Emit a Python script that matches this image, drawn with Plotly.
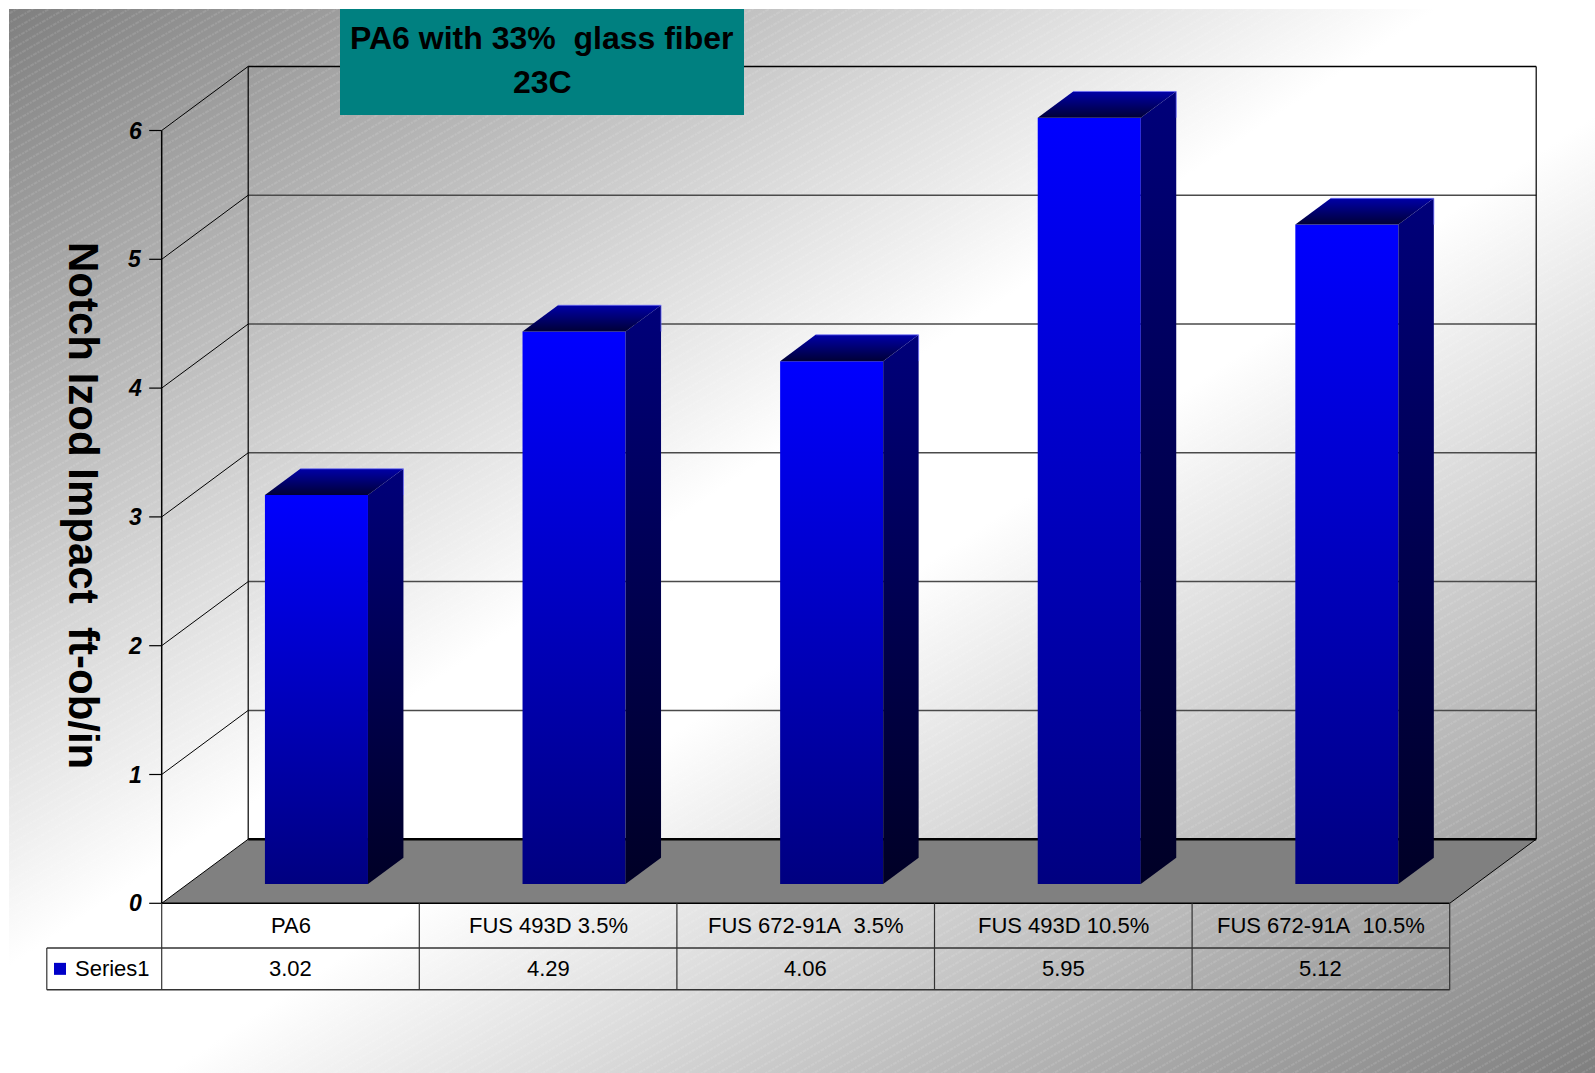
import base64
import plotly.graph_objects as go

# ---------------- data ----------------
categories = ["PA6", "FUS 493D 3.5%", "FUS 672-91A  3.5%", "FUS 493D 10.5%", "FUS 672-91A  10.5%"]
values = [3.02, 4.29, 4.06, 5.95, 5.12]
value_labels = ["3.02", "4.29", "4.06", "5.95", "5.12"]
y_ticks = [0, 1, 2, 3, 4, 5, 6]
series_name = "Series1"
title_lines = ["PA6 with 33%  glass fiber", "23C"]
y_title = "Notch Izod Impact  ft-ob/in"

# ---------------- geometry (pixel frame -> data frame) ----------------
W, H = 1595, 1073
X0, Y0 = 161.7, 903.3      # front-left floor corner in px
SLOT, UNIT = 257.6, 128.8  # px per category, px per value unit
DDX, DDY = 86.5 / SLOT, 64.1 / UNIT   # depth vector in data units
F1, F2 = 0.30, 0.71        # bar depth fractions
BW = 0.40                  # bar width (category units)
N = len(categories)
YMAX = max(y_ticks)


def dx(px):
    return (px - X0) / SLOT


def dy(py):
    return (Y0 - py) / UNIT


def nb(s):
    return s.replace("  ", "&nbsp; ")


FONT = "Liberation Sans, Arial, sans-serif"

fig = go.Figure()


def line(xs, ys, color="#000000", width=1.0):
    fig.add_trace(go.Scatter(x=xs, y=ys, mode="lines", line=dict(color=color, width=width),
                             hoverinfo="skip", showlegend=False))


def poly(xs, ys, scale=None, color=None):
    kw = dict(x=xs + [xs[0]], y=ys + [ys[0]], mode="lines", fill="toself",
              line=dict(width=0), hoverinfo="skip", showlegend=False)
    if scale is not None:
        kw["fillgradient"] = dict(type="vertical", colorscale=scale)
        kw["fillcolor"] = scale[-1][1]
    else:
        kw["fillcolor"] = color
    fig.add_trace(go.Scatter(**kw))


# floor
poly([0, N, N + DDX, DDX], [0, 0, DDY, DDY], color="#808080")

# back wall gridlines and side wall lines
for k in y_ticks:
    if k == 0:
        line([DDX, N + DDX], [DDY, DDY], "#000000", 2.5)
    elif k == YMAX:
        line([DDX, N + DDX], [k + DDY, k + DDY], "#000000", 1.5)
    else:
        line([DDX, N + DDX], [k + DDY, k + DDY], "#4a4a4a", 1.5)
    line([0, DDX], [k, k + DDY], "#000000", 1.0)
    line([-12.5 / SLOT, 0], [k, k], "#000000", 1.2)

line([DDX, DDX], [DDY, YMAX + DDY], "#000000", 1.2)
line([N + DDX, N + DDX], [DDY, YMAX + DDY], "#000000", 1.2)
line([0, 0], [0, YMAX], "#000000", 1.5)
line([N, N + DDX], [0, DDY], "#000000", 1.0)

# bars
front_scale = [[0, "#000080"], [1, "#0000ff"]]
side_scale = [[0, "#000026"], [1, "#00007a"]]
top_scale = [[0, "#000036"], [1, "#0000a8"]]
for i, v in enumerate(values):
    xl = i + 0.5 - BW / 2 + F1 * DDX
    xr = xl + BW
    yb = F1 * DDY
    yt = yb + v
    sx = (F2 - F1) * DDX
    sy = (F2 - F1) * DDY
    poly([xl, xr, xr, xl], [yb, yb, yt, yt], front_scale)
    poly([xr, xr + sx, xr + sx, xr], [yb, yb + sy, yt + sy, yt], side_scale)
    poly([xl, xr, xr + sx, xl + sx], [yt, yt, yt + sy, yt + sy], top_scale)
    # faint light edges along the top-back of each bar
    line([xl + sx, xr + sx, xr + sx], [yt + sy, yt + sy, yt], "rgba(110,110,255,0.7)", 1.0)

# data table
r1, r2 = dy(948.0), dy(989.7)
xleg = dx(46.8)
line([0, N], [0, 0], "#000000", 1.5)
line([xleg, N], [r1, r1], "#333333", 1.5)
line([xleg, N], [r2, r2], "#333333", 1.5)
for c in range(N + 1):
    line([c, c], [0, r2], "#333333", 1.2)
line([xleg, xleg], [r1, r2], "#333333", 1.2)

# legend key
fig.add_trace(go.Scatter(x=[dx(60)], y=[(r1 + r2) / 2], mode="markers",
                         marker=dict(symbol="square", size=12, color="#0000c8", line=dict(width=0)),
                         hoverinfo="skip", showlegend=False))

annotations = []
for i, (c, vl) in enumerate(zip(categories, value_labels)):
    annotations.append(dict(x=i + 0.5, y=r1 / 2, text=nb(c), showarrow=False,
                            font=dict(family=FONT, size=22, color="#000000")))
    annotations.append(dict(x=i + 0.5, y=(r1 + r2) / 2, text=vl, showarrow=False,
                            font=dict(family=FONT, size=22, color="#000000")))
annotations.append(dict(x=dx(73), y=(r1 + r2) / 2, text=series_name, showarrow=False, xanchor="left",
                        font=dict(family=FONT, size=22, color="#000000")))

# y tick labels
for k in y_ticks:
    annotations.append(dict(x=dx(144), y=k, text=str(k), showarrow=False, xanchor="right",
                            font=dict(family=FONT, size=23, color="#000000", weight="bold", style="italic")))

# y title
annotations.append(dict(x=dx(84), y=dy(505), text=nb(y_title), showarrow=False, textangle=90,
                        font=dict(family=FONT, size=42, color="#000000", weight="bold")))

# title
annotations.append(dict(x=dx(542), y=dy(38), text=nb(title_lines[0]), showarrow=False,
                        font=dict(family=FONT, size=32, color="#000000", weight="bold")))
annotations.append(dict(x=dx(542), y=dy(82), text=nb(title_lines[1]), showarrow=False,
                        font=dict(family=FONT, size=32, color="#000000", weight="bold")))

shapes = [dict(type="rect", xref="x", yref="y", x0=dx(340), x1=dx(744), y0=dy(9), y1=dy(115),
               fillcolor="#008080", line=dict(width=0), layer="above")]

# background: diagonal grey-white-grey gradient with fine hatching
bw_, bh_ = W - 9, H - 9
svg = (
    f"<svg xmlns='http://www.w3.org/2000/svg' width='{bw_}' height='{bh_}' viewBox='0 0 {bw_} {bh_}' preserveAspectRatio='none'>"
    "<defs>"
    "<linearGradient id='g' x1='0' y1='0' x2='1' y2='1'>"
    "<stop offset='0' stop-color='#7f7f7f'/><stop offset='0.45' stop-color='#ffffff'/>"
    "<stop offset='0.55' stop-color='#ffffff'/>"
    "<stop offset='1' stop-color='#7f7f7f'/></linearGradient>"
    "<pattern id='p' width='8' height='8' patternUnits='userSpaceOnUse' patternTransform='rotate(-30)'>"
    "<line x1='0' y1='4' x2='8' y2='4' stroke='#ffffff' stroke-opacity='0.22' stroke-width='1' stroke-dasharray='2 1'/>"
    "</pattern></defs>"
    "<rect width='100%' height='100%' fill='url(#g)'/>"
    "<rect width='100%' height='100%' fill='url(#p)'/>"
    "</svg>"
)
src = "data:image/svg+xml;base64," + base64.b64encode(svg.encode()).decode()
images = [dict(source=src, xref="paper", yref="paper", x=9 / W, y=1 - 9 / H,
               sizex=bw_ / W, sizey=bh_ / H, xanchor="left", yanchor="top",
               sizing="stretch", layer="below")]

fig.update_layout(
    width=W, height=H, autosize=False,
    margin=dict(l=0, r=0, t=0, b=0, pad=0),
    paper_bgcolor="#ffffff", plot_bgcolor="rgba(0,0,0,0)",
    xaxis=dict(range=[dx(0), dx(W)], visible=False, fixedrange=True),
    yaxis=dict(range=[dy(H), dy(0)], visible=False, fixedrange=True),
    annotations=annotations, shapes=shapes, images=images,
    showlegend=False,
)

fig.write_html("out.html")
